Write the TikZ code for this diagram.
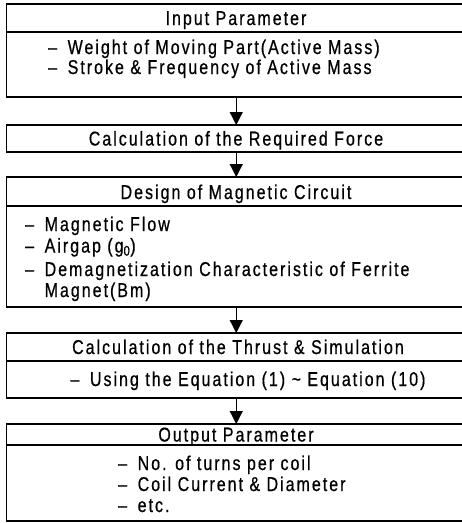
\documentclass[tikz,border=0pt]{standalone}
\usepackage{fontspec}
\setmainfont{Liberation Sans}[FakeStretch=0.8,LetterSpace=10,FakeBold=0.6]
\usetikzlibrary{arrows.meta}
\newcommand{\dsh}{\makebox[19.5pt][l]{--}}
\begin{document}
\begin{tikzpicture}[x=1pt,y=-1pt,
  sect/.style={draw,line width=1.4pt,minimum width=459.5pt,inner sep=0pt,outer sep=0pt},
  txt/.style={inner sep=0pt,font=\fontsize{20}{22}\selectfont},
  flow/.style={line width=1.2pt,-{Triangle[length=13pt,width=13pt]}}]
\useasboundingbox (0,0) rectangle (462,523);
\clip (0,0) rectangle (462,523);
% box 1
\node[sect,minimum height=28pt] (t1) at (236.25,18) {};
\node[sect,minimum height=65pt] (b1) at (236.25,64.5) {};
\node[txt,anchor=base] (t1x) at (236,25) {Input Parameter};
\node[txt,anchor=base west] (b1a) at (48,54) {\dsh Weight of Moving Part(Active Mass)};
\node[txt,anchor=base west] (b1b) at (48,74) {\dsh Stroke \& Frequency of Active Mass};
% box 2
\node[sect,minimum height=27pt] (c2) at (236.25,138.5) {};
\node[txt,anchor=base] (c2x) at (236,145.5) {Calculation of the Required Force};
% box 3
\node[sect,minimum height=29pt] (t3) at (236.25,191.5) {};
\node[sect,minimum height=101pt] (b3) at (236.25,256.5) {};
\node[txt,anchor=base] (t3x) at (236,199) {Design of Magnetic Circuit};
\node[txt,anchor=base west] (b3a) at (25,231) {\dsh Magnetic Flow};
\node[txt,anchor=base west] (b3b) at (25,252.5) {\dsh Airgap (g\textsubscript{0})};
\node[txt,anchor=base west] (b3c) at (25,276) {\dsh Demagnetization Characteristic of Ferrite};
\node[txt,anchor=base west] (b3d) at (44.5,297) {Magnet(Bm)};
% box 4
\node[sect,minimum height=28pt] (t4) at (236.25,347) {};
\node[sect,minimum height=37pt] (b4) at (236.25,379.5) {};
\node[txt,anchor=base] (t4x) at (238,354) {Calculation of the Thrust \& Simulation};
\node[txt,anchor=base] (b4x) at (248,386) {\dsh Using the Equation (1) \textasciitilde{} Equation (10)};
% box 5
\node[sect,minimum height=21pt] (t5) at (236.25,434.5) {};
\node[sect,minimum height=76pt] (b5) at (236.25,483) {};
\node[txt,anchor=base] (t5x) at (236,441.5) {Output Parameter};
\node[txt,anchor=base west] (b5a) at (118,470) {\dsh No. of turns per coil};
\node[txt,anchor=base west] (b5b) at (118,491) {\dsh Coil Current \& Diameter};
\node[txt,anchor=base west] (b5c) at (118,512) {\dsh etc.};
% arrows
\draw[flow] (b1.south) -- (c2.north);
\draw[flow] (c2.south) -- (t3.north);
\draw[flow] (b3.south) -- (t4.north);
\draw[flow] (b4.south) -- (t5.north);
\end{tikzpicture}
\end{document}
